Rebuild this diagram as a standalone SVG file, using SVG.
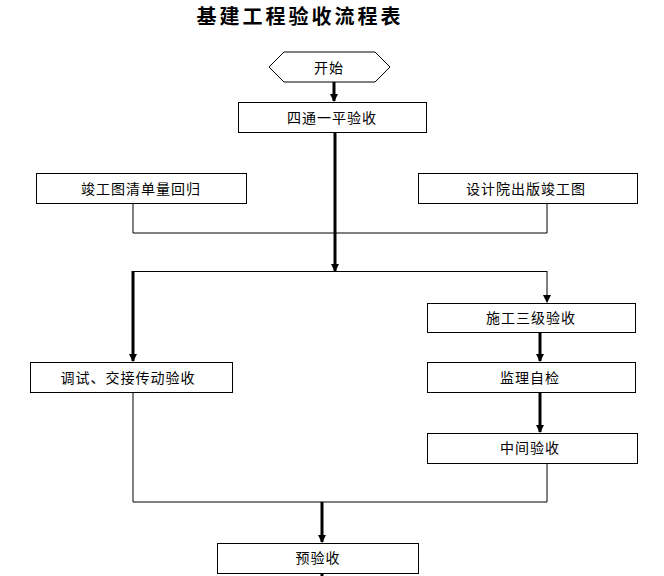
<svg xmlns="http://www.w3.org/2000/svg" width="664" height="576" viewBox="0 0 664 576">
<defs>
<marker id="ah" markerWidth="8" markerHeight="8" refX="7" refY="4" orient="auto" markerUnits="userSpaceOnUse">
<path d="M0,0 L8,4 L0,8 Z" fill="#000"/>
</marker>
<style>
.box{fill:#fff;stroke:#000;stroke-width:1}
.t{font-family:"Noto Sans CJK SC","Noto Sans",sans-serif;font-size:14px;fill:#000;text-anchor:middle;dominant-baseline:central;letter-spacing:1px}
.thin{fill:none;stroke:#000;stroke-width:1}
.thick{fill:none;stroke:#000;stroke-width:3}
.title{font-family:"Noto Sans CJK SC",serif;font-size:20px;font-weight:bold;text-anchor:middle;dominant-baseline:central;letter-spacing:3px}
</style>
</defs>
<rect width="664" height="576" fill="#fff"/>
<text class="title" x="300" y="15">基建工程验收流程表</text>
<g id="connectors">
<path class="thick" d="M334,82 V101" marker-end="url(#ah)"/>
<path class="thick" d="M335,132 V271" marker-end="url(#ah)"/>
<path class="thin" d="M133,203 V233 H547 V203"/>
<path class="thin" d="M133,271.5 H547"/>
<path class="thick" d="M133,271 V361" marker-end="url(#ah)"/>
<path class="thin" d="M547,271 V302" stroke-width="2" marker-end="url(#ah)"/>
<path class="thick" d="M540,332 V361" marker-end="url(#ah)"/>
<path class="thick" d="M540,392 V432" marker-end="url(#ah)"/>
<path class="thin" d="M133,392 V502 H547 V463"/>
<path class="thick" d="M322,502 V542" marker-end="url(#ah)"/>
<path class="thick" d="M322,573 V576"/>
</g>
<g id="start">
<path class="box" d="M269,67 L284,52 H375 L390,67 L375,82 H284 Z"/>
<text class="t" x="329" y="67">开始</text>
</g>
<g id="n1">
<rect class="box" x="238.5" y="102.5" width="188" height="30"/>
<text class="t" x="332" y="117">四通一平验收</text>
</g>
<g id="n2">
<rect class="box" x="36.5" y="173.5" width="210" height="30"/>
<text class="t" x="141" y="188">竣工图清单量回归</text>
</g>
<g id="n3">
<rect class="box" x="418.5" y="173.5" width="219" height="30"/>
<text class="t" x="526" y="188">设计院出版竣工图</text>
</g>
<g id="n4">
<rect class="box" x="427.5" y="303.5" width="208" height="29"/>
<text class="t" x="531" y="317">施工三级验收</text>
</g>
<g id="n5">
<rect class="box" x="30.5" y="362.5" width="202" height="30"/>
<text class="t" x="128" y="377">调试、交接传动验收</text>
</g>
<g id="n6">
<rect class="box" x="427.5" y="362.5" width="208" height="30"/>
<text class="t" x="530" y="377">监理自检</text>
</g>
<g id="n7">
<rect class="box" x="427.5" y="433.5" width="210" height="30"/>
<text class="t" x="530" y="447">中间验收</text>
</g>
<g id="n8">
<rect class="box" x="217.5" y="543.5" width="201" height="30"/>
<text class="t" x="318" y="557">预验收</text>
</g>
</svg>
